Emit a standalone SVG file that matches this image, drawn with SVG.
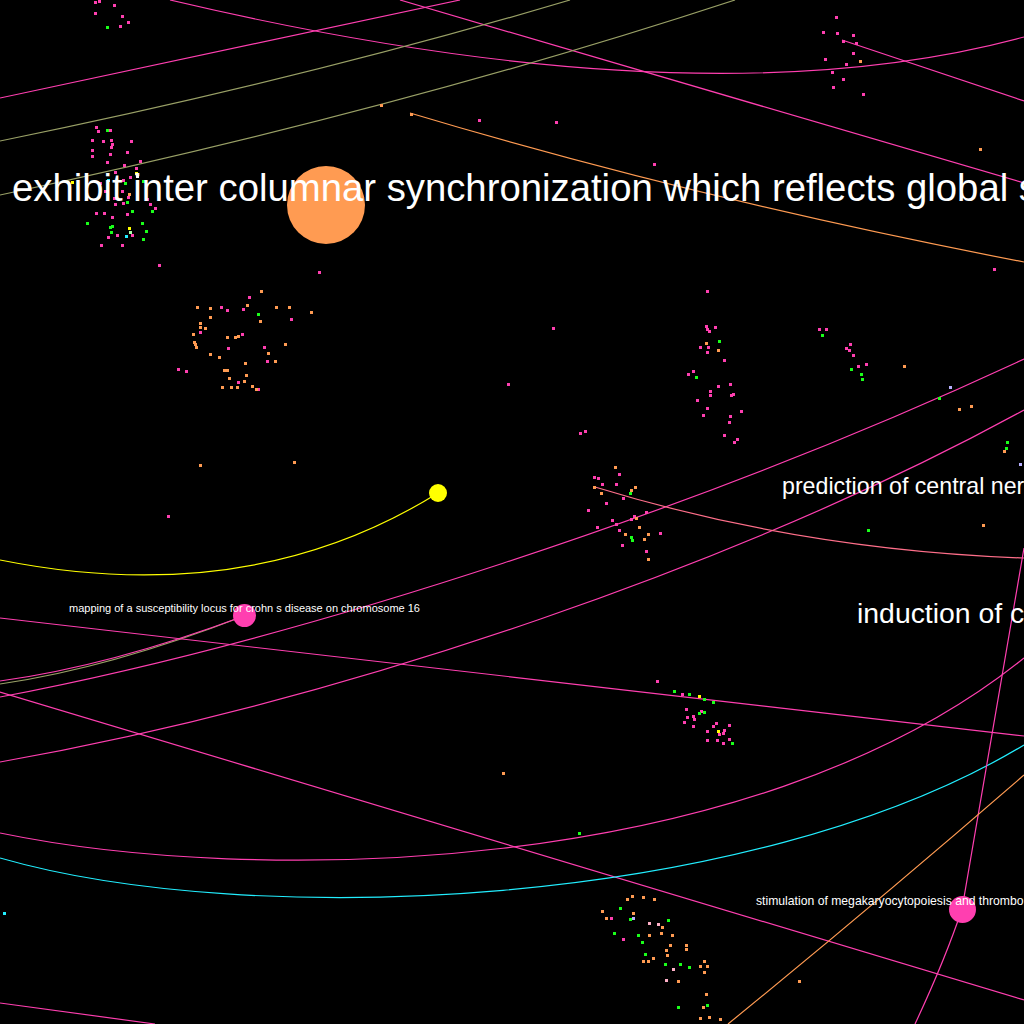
<svg xmlns="http://www.w3.org/2000/svg" width="1024" height="1024" viewBox="0 0 1024 1024">
<style>
.e{fill:none;stroke-width:1.2}
.p{stroke:#ff3fb0}
.o{stroke:#ff9b52}
.ol{stroke:#99a066}
.lbl{font-family:"Liberation Sans",Arial,sans-serif;fill:#ffffff}
</style>
<rect width="1024" height="1024" fill="#000"/>
<g id="connectors">
<path class="e p" d="M0,98 Q250,45 460,0"/>
<path class="e p" d="M170,0 Q700,125 1024,37"/>
<path class="e p" d="M400,0 L1024,183"/>
<path class="e p" d="M842,40 L1024,101"/>
<path class="e ol" d="M0,141 Q300,80 570,0"/>
<path class="e ol" d="M0,195 Q400,110 735,0"/>
<path class="e o" d="M410,113 Q700,200 1024,262"/>
<path class="e" stroke="#ffff00" d="M438,493 Q250,610 0,560"/>
<path class="e ol" d="M244,616 Q110,668 0,684"/>
<path class="e p" d="M244,616 Q110,666 0,681"/>
<path class="e p" d="M0,697 C300,640 700,510 1024,359"/>
<path class="e p" d="M0,762 C350,700 750,560 1024,410"/>
<path class="e p" d="M0,692 L1024,1000"/>
<path class="e p" d="M0,618 L1024,736"/>
<path class="e p" d="M0,833 C250,885 750,880 1024,658"/>
<path class="e" stroke="#22eeff" d="M0,858 C250,930 750,910 1024,745"/>
<path class="e" stroke="#ff6f8a" d="M595,487 Q800,550 1024,558"/>
<path class="e p" d="M1024,548 L962,909 Q945,960 915,1024"/>
<path class="e o" d="M728,1024 Q880,900 1024,775"/>
<path class="e p" d="M0,1003 L155,1024"/>
</g>
<g id="dots">
<path fill="#ff3fb0" d="M94,1h3v3h-3zM98,0h3v3h-3zM113,4h3v3h-3zM94,12h3v3h-3zM121,15h3v3h-3zM127,21h3v3h-3zM119,25h3v3h-3zM95,126h3v3h-3zM97,130h3v3h-3zM109,129h3v3h-3zM91,139h3v3h-3zM102,140h3v3h-3zM110,139h3v3h-3zM130,140h3v3h-3zM111,143h3v3h-3zM110,146h3v3h-3zM91,149h3v3h-3zM109,153h3v3h-3zM126,151h3v3h-3zM91,155h3v3h-3zM106,161h3v3h-3zM123,164h3v3h-3zM139,160h3v3h-3zM135,167h3v3h-3zM114,171h3v3h-3zM129,176h3v3h-3zM122,179h3v3h-3zM99,182h3v3h-3zM104,190h3v3h-3zM121,190h3v3h-3zM127,196h3v3h-3zM113,197h3v3h-3zM114,203h3v3h-3zM122,202h3v3h-3zM146,198h3v3h-3zM149,203h3v3h-3zM154,207h3v3h-3zM95,212h3v3h-3zM103,212h3v3h-3zM111,216h3v3h-3zM126,213h3v3h-3zM107,236h3v3h-3zM116,234h3v3h-3zM131,234h3v3h-3zM100,244h3v3h-3zM121,244h3v3h-3zM158,264h3v3h-3zM318,271h3v3h-3zM248,296h3v3h-3zM220,306h3v3h-3zM226,309h3v3h-3zM242,308h3v3h-3zM199,331h3v3h-3zM290,318h3v3h-3zM241,333h3v3h-3zM227,347h3v3h-3zM263,346h3v3h-3zM266,360h3v3h-3zM177,368h3v3h-3zM185,370h3v3h-3zM237,381h3v3h-3zM257,388h3v3h-3zM706,290h3v3h-3zM705,325h3v3h-3zM706,328h3v3h-3zM708,330h3v3h-3zM714,326h3v3h-3zM699,346h3v3h-3zM707,346h3v3h-3zM706,351h3v3h-3zM723,359h3v3h-3zM692,370h3v3h-3zM687,373h3v3h-3zM717,385h3v3h-3zM729,383h3v3h-3zM709,390h3v3h-3zM709,394h3v3h-3zM732,393h3v3h-3zM730,394h3v3h-3zM696,399h3v3h-3zM706,407h3v3h-3zM740,410h3v3h-3zM702,414h3v3h-3zM729,415h3v3h-3zM728,421h3v3h-3zM723,434h3v3h-3zM736,438h3v3h-3zM733,441h3v3h-3zM579,432h3v3h-3zM584,430h3v3h-3zM618,473h3v3h-3zM593,476h3v3h-3zM597,477h3v3h-3zM601,483h3v3h-3zM615,483h3v3h-3zM622,497h3v3h-3zM605,502h3v3h-3zM587,509h3v3h-3zM645,511h3v3h-3zM633,515h3v3h-3zM630,518h3v3h-3zM611,519h3v3h-3zM615,523h3v3h-3zM596,526h3v3h-3zM618,529h3v3h-3zM659,532h3v3h-3zM621,544h3v3h-3zM645,550h3v3h-3zM681,693h3v3h-3zM685,708h3v3h-3zM700,710h3v3h-3zM692,715h3v3h-3zM686,716h3v3h-3zM693,718h3v3h-3zM683,721h3v3h-3zM692,725h3v3h-3zM715,722h3v3h-3zM712,725h3v3h-3zM728,724h3v3h-3zM706,730h3v3h-3zM723,729h3v3h-3zM722,732h3v3h-3zM718,733h3v3h-3zM706,739h3v3h-3zM716,739h3v3h-3zM728,738h3v3h-3zM722,742h3v3h-3zM610,917h3v3h-3zM622,938h3v3h-3zM835,16h3v3h-3zM822,31h3v3h-3zM836,32h3v3h-3zM852,34h3v3h-3zM842,40h3v3h-3zM855,42h3v3h-3zM852,52h3v3h-3zM824,58h3v3h-3zM845,63h3v3h-3zM831,71h3v3h-3zM842,78h3v3h-3zM832,86h3v3h-3zM862,93h3v3h-3zM818,328h3v3h-3zM825,328h3v3h-3zM849,343h3v3h-3zM845,347h3v3h-3zM848,349h3v3h-3zM852,354h3v3h-3zM857,365h3v3h-3zM865,363h3v3h-3zM478,119h3v3h-3zM555,121h3v3h-3zM653,163h3v3h-3zM993,268h3v3h-3zM552,327h3v3h-3zM507,383h3v3h-3zM167,515h3v3h-3zM656,680h3v3h-3z"/>
<path fill="#ff9b52" d="M128,193h3v3h-3zM260,290h3v3h-3zM209,307h3v3h-3zM196,306h3v3h-3zM246,304h3v3h-3zM275,306h3v3h-3zM288,306h3v3h-3zM310,311h3v3h-3zM209,316h3v3h-3zM259,320h3v3h-3zM199,322h3v3h-3zM199,326h3v3h-3zM204,327h3v3h-3zM192,333h3v3h-3zM226,336h3v3h-3zM234,336h3v3h-3zM237,335h3v3h-3zM193,341h3v3h-3zM194,343h3v3h-3zM195,346h3v3h-3zM209,353h3v3h-3zM218,356h3v3h-3zM267,352h3v3h-3zM284,343h3v3h-3zM274,360h3v3h-3zM244,362h3v3h-3zM223,369h3v3h-3zM226,369h3v3h-3zM245,374h3v3h-3zM228,377h3v3h-3zM243,380h3v3h-3zM251,385h3v3h-3zM221,386h3v3h-3zM230,386h3v3h-3zM236,386h3v3h-3zM255,388h3v3h-3zM705,342h3v3h-3zM717,349h3v3h-3zM614,466h3v3h-3zM593,486h3v3h-3zM600,492h3v3h-3zM630,489h3v3h-3zM634,486h3v3h-3zM635,517h3v3h-3zM638,526h3v3h-3zM647,533h3v3h-3zM624,533h3v3h-3zM643,538h3v3h-3zM647,558h3v3h-3zM631,895h3v3h-3zM642,896h3v3h-3zM653,898h3v3h-3zM626,898h3v3h-3zM601,910h3v3h-3zM632,912h3v3h-3zM605,917h3v3h-3zM661,926h3v3h-3zM648,934h3v3h-3zM660,932h3v3h-3zM671,934h3v3h-3zM669,944h3v3h-3zM685,944h3v3h-3zM685,948h3v3h-3zM665,949h3v3h-3zM666,954h3v3h-3zM652,957h3v3h-3zM642,960h3v3h-3zM647,960h3v3h-3zM703,960h3v3h-3zM699,965h3v3h-3zM706,965h3v3h-3zM703,971h3v3h-3zM677,980h3v3h-3zM705,993h3v3h-3zM702,1006h3v3h-3zM699,1017h3v3h-3zM708,1016h3v3h-3zM719,1018h3v3h-3zM859,60h3v3h-3zM903,365h3v3h-3zM958,408h3v3h-3zM970,405h3v3h-3zM1003,450h3v3h-3zM982,524h3v3h-3zM380,104h3v3h-3zM410,113h3v3h-3zM979,148h3v3h-3zM199,464h3v3h-3zM293,461h3v3h-3zM502,772h3v3h-3zM798,980h3v3h-3z"/>
<path fill="#1aff1a" d="M106,26h3v3h-3zM106,129h3v3h-3zM124,182h3v3h-3zM142,180h3v3h-3zM126,201h3v3h-3zM131,210h3v3h-3zM151,210h3v3h-3zM86,222h3v3h-3zM141,222h3v3h-3zM111,225h3v3h-3zM109,226h3v3h-3zM110,231h3v3h-3zM145,230h3v3h-3zM142,238h3v3h-3zM257,313h3v3h-3zM718,340h3v3h-3zM695,376h3v3h-3zM629,492h3v3h-3zM630,536h3v3h-3zM631,539h3v3h-3zM673,690h3v3h-3zM688,693h3v3h-3zM703,698h3v3h-3zM712,701h3v3h-3zM703,711h3v3h-3zM698,712h3v3h-3zM731,742h3v3h-3zM619,907h3v3h-3zM629,918h3v3h-3zM667,919h3v3h-3zM613,932h3v3h-3zM637,934h3v3h-3zM641,941h3v3h-3zM644,953h3v3h-3zM664,963h3v3h-3zM679,963h3v3h-3zM688,966h3v3h-3zM706,1004h3v3h-3zM677,1006h3v3h-3zM821,334h3v3h-3zM850,368h3v3h-3zM860,373h3v3h-3zM861,378h3v3h-3zM938,397h3v3h-3zM1006,441h3v3h-3zM1005,447h3v3h-3zM867,529h3v3h-3zM578,832h3v3h-3z"/>
<path fill="#ffff00" d="M135,172h3v3h-3zM71,181h3v3h-3zM128,227h3v3h-3zM698,695h3v3h-3zM717,730h3v3h-3z"/>
<path fill="#22eeff" d="M107,179h3v3h-3zM125,235h3v3h-3zM3,912h3v3h-3z"/>
<path fill="#b8b0ff" d="M632,917h3v3h-3zM949,386h3v3h-3zM1019,463h3v3h-3z"/>
<path fill="#ffb0c8" d="M648,922h3v3h-3zM657,923h3v3h-3zM672,968h3v3h-3zM665,979h3v3h-3z"/>
<path fill="#ffffff" d="M136,175h3v3h-3z"/>
<path fill="#a8ffa8" d="M129,231h3v3h-3z"/>
</g>
<g id="node-exhibit">
<circle cx="326" cy="205" r="39" fill="#ff9b52"/>
<text class="lbl" x="12" y="201" font-size="38.3">exhibit inter columnar synchronization which reflects global s</text>
</g>
<g id="node-yellow"><circle cx="438" cy="493" r="9" fill="#ffff00"/></g>
<g id="node-prediction"><text class="lbl" x="782" y="494" font-size="23.2">prediction of central ner</text></g>
<g id="node-induction"><text class="lbl" x="857" y="623" font-size="28.4">induction of c</text></g>
<g id="node-crohn">
<circle cx="244.5" cy="615.5" r="11.5" fill="#ff3fb0"/>
<text class="lbl" x="69" y="611.5" font-size="11">mapping of a susceptibility locus for crohn s disease on chromosome 16</text>
</g>
<g id="node-stimulation">
<circle cx="962.5" cy="909.5" r="13.5" fill="#ff3fb0"/>
<text class="lbl" x="756" y="905" font-size="12.2">stimulation of megakaryocytopoiesis and thrombo</text>
</g>
</svg>
